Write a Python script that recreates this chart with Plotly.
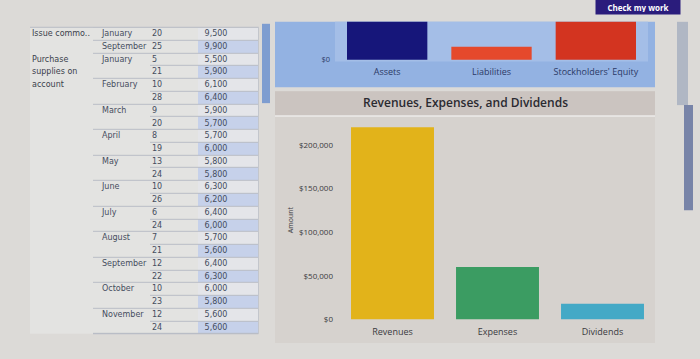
import plotly.graph_objects as go

W, H = 700, 359

# ---- Table data ----
row_labels = ["Issue commo..", "", "Purchase", "supplies on", "account", "", "", "", "", "", "", "",
              "", "", "", "", "", "", "", "", "", "", "", ""]
months = ["January", "September", "January", "", "February", "", "March", "", "April", "", "May", "",
          "June", "", "July", "", "August", "", "September", "", "October", "", "November", ""]
days = [20, 25, 5, 21, 10, 28, 9, 20, 8, 19, 13, 24, 10, 26, 6, 24, 7, 21, 12, 22, 10, 23, 12, 24]
amounts = [9500, 9900, 5500, 5900, 6100, 6400, 5900, 5700, 5700, 6000, 5800, 5800,
           6300, 6200, 6400, 6000, 5700, 5600, 6400, 6300, 6000, 5800, 5600, 5600]

# ---- Top chart data (partially scrolled out of view) ----
bs_categories = ["Assets", "Liabilities", "Stockholders' Equity"]
bs_values = [180000, 12000, 168000]

# ---- Bottom chart data ----
re_categories = ["Revenues", "Expenses", "Dividends"]
re_values = [220000, 60000, 18000]
y_ticks = [0, 50000, 100000, 150000, 200000]
y_ticktext = ["$0", "$50,000", "$100,000", "$150,000", "$200,000"]


def px_x(p):
    return p / W


def px_y(p):
    return 1 - p / H


fig = go.Figure()

# ---- Table built from heatmap cells + text ----
n = len(amounts)
rows = list(range(n))
cscale = [[0, "#e3e3e1"], [0.5, "#e4e5e9"], [1, "#c6d1ea"]]

# month column: merged cells per month group (edges where a new month label starts)
group_edges = [i - 0.5 for i, m in enumerate(months) if m] + [n - 0.5]
fig.add_trace(go.Heatmap(
    x=[0, 63], y=[-0.5, n - 0.5], z=[[0]], zmin=0, zmax=2, colorscale=cscale,
    showscale=False, xaxis="x3", yaxis="y3", hoverinfo="skip",
))
fig.add_trace(go.Heatmap(
    x=[63, 120], y=group_edges, z=[[0] for _ in range(len(group_edges) - 1)], zmin=0, zmax=2,
    colorscale=cscale, showscale=False, xaxis="x3", yaxis="y3", hoverinfo="skip", ygap=1,
))
z_grid = [[0, 0, (2 if i % 2 == 1 else 1)] for i in rows]
fig.add_trace(go.Heatmap(
    x=[120, 150, 168, 228], y=rows, z=z_grid, zmin=0, zmax=2, colorscale=cscale,
    showscale=False, xaxis="x3", yaxis="y3", hoverinfo="skip", ygap=1,
))
txt_font = dict(family="DejaVu Sans", size=8, color="#454d5e")
fig.add_trace(go.Scatter(x=[2] * n, y=rows, text=row_labels, mode="text", textposition="middle right",
                         textfont=dict(family="DejaVu Sans", size=8, color="#3a3f4c"),
                         xaxis="x3", yaxis="y3", showlegend=False, hoverinfo="skip"))
fig.add_trace(go.Scatter(x=[72] * n, y=rows, text=months, mode="text", textposition="middle right",
                         textfont=txt_font, xaxis="x3", yaxis="y3", showlegend=False, hoverinfo="skip"))
fig.add_trace(go.Scatter(x=[122] * n, y=rows, text=[str(d) for d in days], mode="text",
                         textposition="middle right", textfont=txt_font, xaxis="x3", yaxis="y3",
                         showlegend=False, hoverinfo="skip"))
fig.add_trace(go.Scatter(x=[186] * n, y=rows, text=[f"{a:,}" for a in amounts], mode="text",
                         textposition="middle center", textfont=txt_font, xaxis="x3", yaxis="y3",
                         showlegend=False, hoverinfo="skip"))

# ---- Top chart (balance sheet, clipped) ----
bs_colors = ["#16167a", "#e5492c", "#d33420"]
fig.add_trace(go.Bar(
    x=bs_categories, y=bs_values, marker=dict(color=bs_colors, line=dict(width=0)),
    width=0.77, xaxis="x2", yaxis="y2", showlegend=False, hoverinfo="x+y",
))

# ---- Bottom chart ----
re_colors = ["#e2b31a", "#3b9c62", "#44a9c6"]
fig.add_trace(go.Bar(
    x=re_categories, y=re_values, marker=dict(color=re_colors, line=dict(width=0)),
    width=0.79, xaxis="x", yaxis="y", showlegend=False, hoverinfo="x+y",
))

shapes = [
    # table grid-line backing
    dict(type="rect", xref="paper", yref="paper", x0=px_x(93), x1=px_x(258), y0=px_y(337), y1=px_y(28),
         fillcolor="#b9bdc6", line=dict(width=0), layer="below"),
    dict(type="line", xref="paper", yref="paper", x0=px_x(30), x1=px_x(258), y0=px_y(27.5), y1=px_y(27.5),
         line=dict(color="#b9bdc6", width=1)),
    dict(type="line", xref="paper", yref="paper", x0=px_x(258.5), x1=px_x(258.5), y0=px_y(337), y1=px_y(27),
         line=dict(color="#c3c6cc", width=1)),
    # top panel background
    dict(type="rect", xref="paper", yref="paper", x0=px_x(275), x1=px_x(655), y0=px_y(88), y1=px_y(22),
         fillcolor="#93b2e2", line=dict(width=0), layer="below"),
    dict(type="rect", xref="paper", yref="paper", x0=px_x(335), x1=px_x(648), y0=px_y(62), y1=px_y(22),
         fillcolor="#a4bee7", line=dict(width=0), layer="below"),
    # bottom panel background
    dict(type="rect", xref="paper", yref="paper", x0=px_x(275), x1=px_x(655), y0=px_y(346), y1=px_y(92),
         fillcolor="#d6d2ce", line=dict(width=0), layer="below"),
    dict(type="rect", xref="paper", yref="paper", x0=px_x(275), x1=px_x(655), y0=px_y(117), y1=px_y(92),
         fillcolor="#cbc4c0", line=dict(width=0), layer="below"),
    dict(type="line", xref="paper", yref="paper", x0=px_x(275), x1=px_x(655), y0=px_y(117), y1=px_y(117),
         line=dict(color="#ecebea", width=1.5)),
    # table scrollbar strip
    dict(type="rect", xref="paper", yref="paper", x0=px_x(262), x1=px_x(270), y0=px_y(104), y1=px_y(24),
         fillcolor="#7e9dd0", line=dict(width=0)),
    # right page scrollbar (track + thumb)
    dict(type="rect", xref="paper", yref="paper", x0=px_x(677), x1=px_x(688), y0=px_y(106), y1=px_y(22),
         fillcolor="#b0b7c4", line=dict(width=0), layer="below"),
    dict(type="rect", xref="paper", yref="paper", x0=px_x(684), x1=px_x(693), y0=px_y(212), y1=px_y(106),
         fillcolor="#7884a8", line=dict(width=0), layer="below"),
]

annotations = [
    dict(text="<b>Check my work</b>", xref="paper", yref="paper", x=px_x(638), y=px_y(7),
         showarrow=False, font=dict(family="Open Sans", size=8, color="white"),
         bgcolor="#2a1c7c", borderpad=2, width=80, height=10, xanchor="center", yanchor="middle"),
    dict(text="Revenues, Expenses, and Dividends", xref="paper", yref="paper", x=px_x(465), y=px_y(103),
         showarrow=False, font=dict(family="Open Sans", size=12, color="#2a2a30", weight=600),
         xanchor="center", yanchor="middle"),
]

fig.update_layout(
    width=W, height=H,
    margin=dict(l=0, r=0, t=0, b=0),
    paper_bgcolor="#dcdad7",
    plot_bgcolor="rgba(0,0,0,0)",
    font=dict(family="Open Sans", color="#333"),
    shapes=shapes,
    annotations=annotations,
    xaxis=dict(domain=[px_x(340), px_x(655)], showgrid=False, showline=False, ticks="",
               tickfont=dict(size=9, color="#3a3a40"), ticklabelstandoff=2, anchor="y"),
    yaxis=dict(domain=[px_y(326), px_y(118)], range=[-4500, 231800], showgrid=False,
               zeroline=False, tickvals=y_ticks, ticktext=y_ticktext,
               tickfont=dict(size=8, color="#3a3a40"), ticks="", ticklabelstandoff=6,
               title=dict(text="Amount", font=dict(size=7, color="#3a3a40"), standoff=4),
               anchor="x"),
    xaxis2=dict(domain=[px_x(335), px_x(648)], showgrid=False, showline=False, ticks="",
                tickfont=dict(size=9, color="#2c3a66"), ticklabelstandoff=4, anchor="y2"),
    yaxis2=dict(domain=[px_y(62), px_y(22)], range=[-1500, 35000], showgrid=False,
                zeroline=False, tickvals=[0], ticktext=["$0"], ticklabelstandoff=4,
                tickfont=dict(size=7.5, color="#2c3a66"), ticks="", anchor="x2"),
    xaxis3=dict(domain=[px_x(30), px_x(258)], range=[0, 228], visible=False, fixedrange=True,
                anchor="y3"),
    yaxis3=dict(domain=[px_y(337), px_y(28)], range=[n - 0.5, -0.5], visible=False, fixedrange=True,
                anchor="x3"),
)

fig.write_html("out.html", config={"displayModeBar": False},
               post_script="document.body.style.margin='0';")
